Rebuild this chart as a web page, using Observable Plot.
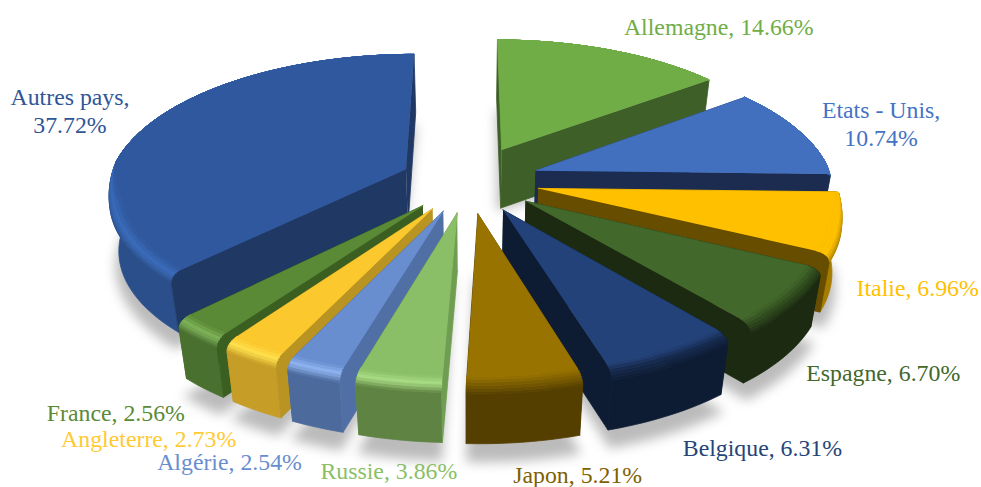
<!DOCTYPE html>
<html>
<head>
<meta charset="utf-8">
<style>html,body{margin:0;padding:0;background:#fff}svg{display:block}</style>
<script src="https://cdn.jsdelivr.net/npm/d3@7"></script>
<script src="https://cdn.jsdelivr.net/npm/@observablehq/plot@0.6"></script>
</head>
<body>
<div id="chart"></div>
<script>
// Data, clockwise from 12 o'clock
const countries = ["Allemagne","Etats - Unis","Italie","Espagne","Belgique","Japon","Russie","Algérie","Angleterre","France","Autres pays"];
const shares = [14.66,10.74,6.96,6.70,6.31,5.21,3.86,2.54,2.73,2.56,37.72];

// Styles
const topColors  = ["#70ad47","#4270bf","#ffc000","#43682b","#234279","#997300","#8abf67","#698ed0","#fbc92d","#5b8a37","#2f589e"];
const rimColors  = ["#70ad47","#4270bf","#ffc000","#2e4a1d","#16294c","#7a5c00","#a8dc84","#8fb4f0","#ffe04d","#7fb35a","#3a6bbb"];
const sideColors = ["#3e5f27","#2a4d8c","#a67c00","#1b2a11","#0e1c33","#553f00","#5f8342","#4c6a9c","#c69d26","#4a7030","#2a4f8a"];
const wallColors = ["#3e5f27","#1b2c50","#664d00","#1b2a11","#0e1c33","#553f00","#6f9e52","#4f6fa5","#b99422","#3b5f20","#1f3864"];
const textColors = ["#70ad47","#4472c4","#ffc000","#43682b","#264478","#7f6000","#8abf67","#698ed0","#ffca33","#5b8a37","#2f5597"];
const explode = [.26,.24,.24,.24,.24,.24,.235,.235,.235,.235,.23];
const labelDx = [108,81,75,89,87,52,-9,-83,-101,-80,-82];
const labelDy = [-24,-9,64,73,90,90,88,92,86,82,-12];
const drawOrder = [10,0,1,2,3,4,9,8,7,6,5];

// Perspective model
const cx = 468, cy = 180, R = 297, K = 135, P = .15, D = 58;
function project(X, Y, Z) {
  const s = 1 / (1 + P * Y);
  return [cx + R * X * s * (1 - .03 * Z), cy - K * Y * s + D * Z];
}
const total = d3.sum(shares);
let acc = 0;
const slices = shares.map((v, i) => {
  const a0 = acc / total * 2 * Math.PI; acc += v;
  const a1 = acc / total * 2 * Math.PI;
  const mid = (a0 + a1) / 2;
  return {i, a0, a1, ox: explode[i] * Math.sin(mid), oy: explode[i] * Math.cos(mid), mid};
});
const polys = [], shadows = [];
let pid = 0;
function addPoly(pts, fill, target = polys) {
  const id = pid++;
  pts.forEach(p => target.push({id, x: p[0], y: p[1], fill}));
}
// the bevel fades out toward the back of the pie
const bevelWeight = a => Math.max(0, Math.min(1, (-Math.cos(a) + .05) / .3));
const bevelW = .045, bevelZ = .14, bands = 6;
function rimPoint(s, a, t) {
  const w = bevelWeight(a), th = t * Math.PI / 2;
  const r = 1 - bevelW * w * (1 - Math.sin(th));
  return project(s.ox + r * Math.sin(a), s.oy + r * Math.cos(a), bevelZ * w * (1 - Math.cos(th)));
}
function rim(s, t, a0 = s.a0, a1 = s.a1) {
  const n = Math.max(6, Math.ceil((a1 - a0) / .03));
  return d3.range(n + 1).map(k => rimPoint(s, a0 + (a1 - a0) * k / n, t));
}
function floorRim(s, a0, a1, r, z) {
  const n = Math.max(6, Math.ceil((a1 - a0) / .03));
  return d3.range(n + 1).map(k => {
    const a = a0 + (a1 - a0) * k / n;
    return project(s.ox + r * Math.sin(a), s.oy + r * Math.cos(a), z);
  });
}
for (const s of slices) {
  addPoly([project(s.ox - .012, s.oy, 1.05), ...floorRim(s, s.a0, s.a1, 1.02, 1.25)], "#bbbbbb", shadows);
}
for (const idx of drawOrder) {
  const s = slices[idx], i = s.i;
  const at = (a, z) => project(s.ox + Math.sin(a), s.oy + Math.cos(a), z);
  const apexTop = project(s.ox, s.oy, 0), apexBot = project(s.ox, s.oy, 1);
  const wall = a => [apexTop, ...d3.range(bands + 1).map(b => rimPoint(s, a, b / bands)), at(a, 1), apexBot];
  const frontWall = s.mid < Math.PI ? s.a1 : s.a0, backWall = s.mid < Math.PI ? s.a0 : s.a1;
  addPoly(wall(backWall), wallColors[i]);
  // outer side, only the part that faces the viewer
  const v0 = Math.max(s.a0, Math.PI / 2), v1 = Math.min(s.a1, 3 * Math.PI / 2);
  if (v1 > v0) {
    addPoly([...rim(s, 1, v0, v1), ...floorRim(s, v0, v1, 1, 1).reverse()], sideColors[i]);
  }
  addPoly(wall(frontWall), wallColors[i]);
  // rounded bevel
  const col = d3.scaleLinear().domain([0, .45, 1]).range([topColors[i], rimColors[i], sideColors[i]]);
  for (let b = bands - 1; b >= 0; b--) {
    addPoly([...rim(s, b / bands), ...rim(s, (b + 1) / bands).reverse()], col((b + .5) / bands));
  }
  // top
  addPoly([apexTop, ...rim(s, 0)], topColors[i]);
}
const labels = slices.map(s => {
  const p = project(s.ox + Math.sin(s.mid), s.oy + Math.cos(s.mid), 0);
  const name = countries[s.i];
  const pct = shares[s.i].toFixed(2) + "%";
  const two = name === "Etats - Unis" || name === "Autres pays";
  return {x: p[0] + labelDx[s.i], y: p[1] + labelDy[s.i], text: name + "," + (two ? "\n" : " ") + pct, fill: textColors[s.i]};
});

const chart = Plot.plot({
  width: 981, height: 487,
  margin: 0,
  x: {domain: [0, 981], range: [0, 981], axis: null},
  y: {domain: [0, 487], range: [0, 487], axis: null},
  color: {type: "identity"},
  style: {background: "#fff"},
  marks: [
    Plot.line(shadows, {x: "x", y: "y", z: "id", fill: "fill", stroke: "none"}),
    Plot.line(polys, {x: "x", y: "y", z: "id", fill: "fill", stroke: "fill", strokeWidth: .8}),
    Plot.text(labels, {x: "x", y: "y", text: "text", fill: "fill", fontFamily: "Liberation Serif", fontSize: 23.8, lineHeight: 1.18, textAnchor: "middle"})
  ]
});
const shadowLayer = chart.querySelector("g[aria-label='line']");
if (shadowLayer) shadowLayer.style.filter = "blur(6px)";
document.getElementById("chart").append(chart);
</script>
</body>
</html>
